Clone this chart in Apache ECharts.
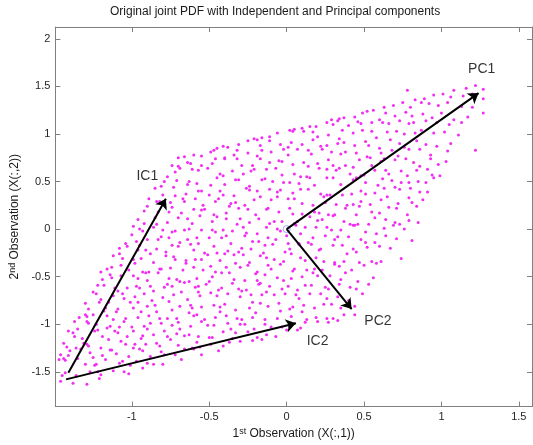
<!DOCTYPE html>
<html>
<head>
<meta charset="utf-8">
<script src="https://cdn.jsdelivr.net/npm/echarts@6/dist/echarts.min.js"></script>
<style>
html, body { margin: 0; padding: 0; background: #fff; }
#chart { width: 533px; height: 445px; }
</style>
</head>
<body>
<div id="chart"></div>
<script>
// axis limits and tick step
const xLimits = [-1.494, 1.585];
const yLimits = [-1.866, 2.125];
const tickStep = 0.5;

// the sampled joint PDF (x = 1st observation, y = 2nd observation), bottom to top
const samples = [
[-1.46,-1.60],[-1.38,-1.62],[-1.29,-1.63],[-1.21,-1.57],
[-1.45,-1.54],[-1.43,-1.51],[-1.36,-1.54],[-1.27,-1.50],[-1.22,-1.50],[-1.20,-1.53],[-1.12,-1.49],[-1.05,-1.50],[-1.02,-1.52],[-0.93,-1.46],
[-1.47,-1.37],[-1.44,-1.36],[-1.43,-1.38],[-1.35,-1.36],[-1.30,-1.42],[-1.24,-1.43],[-1.23,-1.42],[-1.17,-1.37],[-1.08,-1.41],[-1.06,-1.39],[-1.01,-1.43],[-0.97,-1.39],[-0.90,-1.41],[-0.86,-1.42],[-0.80,-1.42],[-0.68,-1.37],
[-1.46,-1.32],[-1.41,-1.33],[-1.40,-1.28],[-1.33,-1.26],[-1.27,-1.30],[-1.25,-1.35],[-1.19,-1.33],[-1.14,-1.27],[-1.13,-1.27],[-1.10,-1.31],[-1.02,-1.34],[-0.95,-1.26],[-0.93,-1.28],[-0.88,-1.34],[-0.81,-1.29],[-0.79,-1.32],[-0.72,-1.32],[-0.66,-1.26],[-0.60,-1.26],[-0.55,-1.32],[-0.44,-1.28],
[-1.44,-1.20],[-1.42,-1.24],[-1.36,-1.25],[-1.31,-1.20],[-1.29,-1.21],[-1.28,-1.23],[-1.20,-1.25],[-1.15,-1.16],[-1.07,-1.18],[-1.04,-1.21],[-0.99,-1.25],[-0.98,-1.21],[-0.91,-1.21],[-0.84,-1.20],[-0.82,-1.23],[-0.75,-1.16],[-0.70,-1.22],[-0.61,-1.25],[-0.58,-1.19],[-0.56,-1.24],[-0.49,-1.21],[-0.41,-1.23],[-0.37,-1.19],[-0.30,-1.18],[-0.22,-1.17],[-0.16,-1.16],
[-1.41,-1.07],[-1.38,-1.09],[-1.37,-1.13],[-1.32,-1.15],[-1.24,-1.07],[-1.22,-1.06],[-1.19,-1.13],[-1.11,-1.07],[-1.09,-1.09],[-1.03,-1.13],[-0.99,-1.07],[-0.94,-1.15],[-0.93,-1.12],[-0.86,-1.11],[-0.79,-1.07],[-0.77,-1.13],[-0.71,-1.10],[-0.66,-1.12],[-0.63,-1.11],[-0.57,-1.13],[-0.50,-1.14],[-0.48,-1.14],[-0.41,-1.08],[-0.35,-1.15],[-0.33,-1.09],[-0.25,-1.08],[-0.19,-1.14],[-0.13,-1.11],[-0.07,-1.13],[0.00,-1.06],[0.07,-1.06],
[-1.37,-0.97],[-1.35,-1.05],[-1.29,-0.97],[-1.28,-0.99],[-1.23,-1.00],[-1.16,-1.04],[-1.14,-1.02],[-1.08,-1.03],[-1.05,-0.97],[-1.00,-1.03],[-0.92,-1.02],[-0.90,-1.05],[-0.88,-0.99],[-0.81,-0.99],[-0.74,-1.01],[-0.70,-0.98],[-0.69,-1.05],[-0.62,-1.02],[-0.55,-0.97],[-0.51,-1.01],[-0.47,-1.01],[-0.38,-0.99],[-0.36,-1.05],[-0.30,-1.00],[-0.27,-1.00],[-0.21,-1.05],[-0.14,-1.00],[-0.10,-1.03],[-0.03,-1.03],[0.02,-1.02],[0.09,-1.04],[0.12,-0.98],[0.20,-0.97],[0.27,-0.98],[0.33,-0.96],
[-1.34,-0.93],[-1.30,-0.90],[-1.29,-0.92],[-1.25,-0.90],[-1.18,-0.86],[-1.16,-0.91],[-1.12,-0.95],[-1.10,-0.87],[-1.04,-0.94],[-0.96,-0.93],[-0.94,-0.87],[-0.89,-0.91],[-0.84,-0.87],[-0.82,-0.94],[-0.77,-0.94],[-0.71,-0.94],[-0.63,-0.88],[-0.60,-0.91],[-0.58,-0.90],[-0.53,-0.95],[-0.46,-0.93],[-0.43,-0.87],[-0.39,-0.91],[-0.32,-0.94],[-0.29,-0.95],[-0.22,-0.93],[-0.20,-0.88],[-0.14,-0.95],[-0.06,-0.94],[-0.04,-0.86],[0.03,-0.92],[0.10,-0.87],[0.13,-0.95],[0.19,-0.93],[0.26,-0.94],[0.30,-0.94],[0.37,-0.90],[0.44,-0.90],
[-1.30,-0.78],[-1.28,-0.84],[-1.21,-0.77],[-1.17,-0.83],[-1.15,-0.77],[-1.09,-0.84],[-1.01,-0.77],[-0.99,-0.83],[-0.96,-0.77],[-0.90,-0.81],[-0.85,-0.80],[-0.76,-0.76],[-0.74,-0.85],[-0.69,-0.81],[-0.62,-0.80],[-0.61,-0.83],[-0.55,-0.82],[-0.47,-0.80],[-0.43,-0.82],[-0.40,-0.79],[-0.33,-0.85],[-0.24,-0.83],[-0.22,-0.77],[-0.17,-0.78],[-0.12,-0.81],[-0.05,-0.78],[0.02,-0.84],[0.04,-0.82],[0.11,-0.80],[0.18,-0.83],[0.24,-0.79],[0.29,-0.79],[0.35,-0.83],[0.44,-0.81],
[-1.25,-0.66],[-1.23,-0.68],[-1.20,-0.74],[-1.12,-0.70],[-1.06,-0.68],[-1.05,-0.73],[-0.98,-0.71],[-0.92,-0.68],[-0.87,-0.75],[-0.86,-0.65],[-0.80,-0.72],[-0.73,-0.69],[-0.68,-0.66],[-0.64,-0.74],[-0.57,-0.66],[-0.56,-0.70],[-0.49,-0.67],[-0.45,-0.70],[-0.38,-0.68],[-0.30,-0.71],[-0.29,-0.65],[-0.23,-0.69],[-0.16,-0.69],[-0.13,-0.66],[-0.08,-0.69],[-0.01,-0.68],[0.06,-0.69],[0.08,-0.73],[0.15,-0.68],[0.22,-0.68],[0.26,-0.73],[0.33,-0.71],[0.40,-0.75],[0.49,-0.68],
[-1.22,-0.59],[-1.18,-0.59],[-1.11,-0.62],[-1.09,-0.65],[-1.03,-0.62],[-0.97,-0.60],[-0.95,-0.62],[-0.88,-0.60],[-0.79,-0.61],[-0.77,-0.58],[-0.74,-0.60],[-0.66,-0.56],[-0.59,-0.61],[-0.57,-0.60],[-0.52,-0.58],[-0.44,-0.64],[-0.42,-0.62],[-0.35,-0.57],[-0.31,-0.63],[-0.26,-0.64],[-0.18,-0.58],[-0.17,-0.57],[-0.11,-0.60],[-0.03,-0.63],[0.01,-0.60],[0.07,-0.64],[0.12,-0.59],[0.16,-0.59],[0.25,-0.61],[0.27,-0.63],[0.34,-0.58],[0.41,-0.61],[0.45,-0.63],[0.53,-0.58],
[-1.19,-0.53],[-1.14,-0.48],[-1.13,-0.51],[-1.07,-0.49],[-0.99,-0.49],[-0.96,-0.52],[-0.91,-0.46],[-0.90,-0.54],[-0.83,-0.46],[-0.76,-0.52],[-0.71,-0.53],[-0.69,-0.55],[-0.63,-0.55],[-0.58,-0.52],[-0.50,-0.55],[-0.48,-0.50],[-0.42,-0.46],[-0.37,-0.46],[-0.34,-0.53],[-0.27,-0.54],[-0.20,-0.47],[-0.19,-0.54],[-0.14,-0.48],[-0.06,-0.51],[-0.02,-0.54],[0.03,-0.52],[0.10,-0.50],[0.17,-0.46],[0.20,-0.49],[0.28,-0.49],[0.35,-0.53],[0.38,-0.46],[0.46,-0.55],[0.56,-0.51],
[-1.16,-0.42],[-1.13,-0.40],[-1.07,-0.38],[-1.02,-0.43],[-0.98,-0.36],[-0.93,-0.45],[-0.89,-0.45],[-0.82,-0.42],[-0.81,-0.42],[-0.75,-0.41],[-0.67,-0.43],[-0.65,-0.36],[-0.60,-0.40],[-0.54,-0.43],[-0.49,-0.39],[-0.46,-0.45],[-0.39,-0.40],[-0.33,-0.36],[-0.30,-0.40],[-0.25,-0.38],[-0.19,-0.45],[-0.12,-0.38],[-0.10,-0.42],[-0.04,-0.37],[0.04,-0.44],[0.05,-0.42],[0.13,-0.43],[0.18,-0.42],[0.23,-0.43],[0.31,-0.37],[0.34,-0.39],[0.42,-0.43],[0.50,-0.38],[0.58,-0.36],
[-1.12,-0.28],[-1.08,-0.26],[-1.06,-0.31],[-0.99,-0.32],[-0.94,-0.31],[-0.88,-0.26],[-0.86,-0.35],[-0.78,-0.28],[-0.73,-0.29],[-0.72,-0.32],[-0.65,-0.33],[-0.59,-0.32],[-0.55,-0.32],[-0.51,-0.27],[-0.43,-0.33],[-0.40,-0.26],[-0.34,-0.27],[-0.28,-0.27],[-0.24,-0.35],[-0.17,-0.28],[-0.13,-0.30],[-0.08,-0.32],[-0.02,-0.34],[0.03,-0.26],[0.09,-0.30],[0.12,-0.33],[0.19,-0.30],[0.24,-0.34],[0.31,-0.35],[0.37,-0.34],[0.39,-0.26],[0.47,-0.35],[0.55,-0.34],[0.61,-0.34],
[-1.08,-0.20],[-1.03,-0.18],[-0.96,-0.22],[-0.95,-0.17],[-0.91,-0.22],[-0.84,-0.21],[-0.78,-0.24],[-0.74,-0.17],[-0.70,-0.18],[-0.62,-0.16],[-0.60,-0.22],[-0.53,-0.25],[-0.47,-0.18],[-0.45,-0.25],[-0.38,-0.23],[-0.31,-0.24],[-0.29,-0.20],[-0.23,-0.21],[-0.15,-0.25],[-0.14,-0.17],[-0.09,-0.16],[-0.01,-0.24],[0.02,-0.21],[0.08,-0.16],[0.16,-0.16],[0.21,-0.22],[0.22,-0.21],[0.30,-0.17],[0.36,-0.17],[0.43,-0.21],[0.45,-0.24],[0.52,-0.19],[0.60,-0.18],[0.67,-0.20],
[-1.04,-0.15],[-1.00,-0.06],[-0.97,-0.13],[-0.90,-0.11],[-0.83,-0.11],[-0.81,-0.08],[-0.76,-0.09],[-0.69,-0.14],[-0.64,-0.11],[-0.58,-0.09],[-0.57,-0.15],[-0.50,-0.09],[-0.42,-0.09],[-0.39,-0.07],[-0.36,-0.15],[-0.27,-0.07],[-0.22,-0.13],[-0.18,-0.13],[-0.12,-0.09],[-0.07,-0.11],[0.00,-0.07],[0.01,-0.15],[0.08,-0.15],[0.14,-0.14],[0.17,-0.09],[0.25,-0.07],[0.31,-0.11],[0.33,-0.08],[0.40,-0.08],[0.48,-0.11],[0.51,-0.14],[0.57,-0.14],[0.64,-0.07],[0.71,-0.10],
[-0.99,0.03],[-0.95,0.00],[-0.93,-0.02],[-0.86,0.02],[-0.80,-0.01],[-0.74,-0.03],[-0.72,-0.02],[-0.66,-0.01],[-0.63,0.00],[-0.55,-0.01],[-0.48,-0.01],[-0.46,-0.03],[-0.41,-0.01],[-0.35,-0.02],[-0.28,0.02],[-0.26,-0.04],[-0.19,-0.05],[-0.13,0.02],[-0.06,0.00],[-0.04,-0.02],[0.06,0.04],[0.09,-0.05],[0.12,0.02],[0.19,0.02],[0.26,0.02],[0.29,-0.01],[0.35,-0.01],[0.43,0.04],[0.44,0.04],[0.51,-0.03],[0.58,-0.05],[0.63,0.01],[0.69,0.04],[0.76,0.00],
[-0.96,0.10],[-0.92,0.06],[-0.85,0.12],[-0.84,0.05],[-0.77,0.07],[-0.70,0.12],[-0.64,0.11],[-0.61,0.06],[-0.56,0.14],[-0.48,0.08],[-0.45,0.13],[-0.39,0.11],[-0.32,0.05],[-0.30,0.11],[-0.24,0.07],[-0.18,0.11],[-0.11,0.06],[-0.08,0.08],[-0.03,0.08],[0.05,0.06],[0.07,0.08],[0.15,0.13],[0.20,0.09],[0.23,0.10],[0.30,0.14],[0.37,0.08],[0.41,0.05],[0.46,0.05],[0.53,0.05],[0.57,0.12],[0.64,0.10],[0.70,0.07],[0.73,0.05],[0.79,0.09],
[-0.92,0.19],[-0.90,0.24],[-0.83,0.18],[-0.76,0.18],[-0.74,0.23],[-0.68,0.17],[-0.60,0.21],[-0.55,0.20],[-0.53,0.21],[-0.47,0.15],[-0.39,0.17],[-0.37,0.24],[-0.31,0.22],[-0.25,0.21],[-0.20,0.15],[-0.13,0.21],[-0.12,0.22],[-0.05,0.18],[0.02,0.22],[0.04,0.16],[0.10,0.16],[0.18,0.18],[0.21,0.17],[0.27,0.15],[0.31,0.15],[0.38,0.22],[0.45,0.15],[0.47,0.24],[0.55,0.18],[0.60,0.17],[0.66,0.23],[0.71,0.22],[0.78,0.15],[0.84,0.24],
[-0.89,0.32],[-0.84,0.29],[-0.82,0.29],[-0.75,0.28],[-0.67,0.32],[-0.66,0.29],[-0.59,0.32],[-0.54,0.25],[-0.46,0.29],[-0.44,0.32],[-0.36,0.27],[-0.33,0.28],[-0.27,0.25],[-0.21,0.31],[-0.17,0.34],[-0.10,0.31],[-0.06,0.34],[0.01,0.32],[0.05,0.32],[0.10,0.27],[0.17,0.25],[0.24,0.34],[0.25,0.28],[0.32,0.26],[0.39,0.25],[0.43,0.26],[0.48,0.29],[0.54,0.26],[0.61,0.31],[0.65,0.34],[0.72,0.27],[0.79,0.33],[0.81,0.28],[0.88,0.31],
[-0.85,0.43],[-0.80,0.36],[-0.73,0.44],[-0.72,0.35],[-0.65,0.37],[-0.57,0.40],[-0.55,0.40],[-0.50,0.36],[-0.43,0.40],[-0.41,0.36],[-0.34,0.35],[-0.26,0.43],[-0.24,0.41],[-0.19,0.40],[-0.11,0.42],[-0.06,0.39],[-0.04,0.41],[0.04,0.38],[0.09,0.42],[0.14,0.42],[0.22,0.37],[0.26,0.36],[0.28,0.36],[0.36,0.36],[0.42,0.37],[0.48,0.40],[0.51,0.37],[0.57,0.38],[0.63,0.43],[0.70,0.44],[0.73,0.42],[0.80,0.43],[0.86,0.39],[0.91,0.39],
[-0.81,0.45],[-0.79,0.50],[-0.71,0.51],[-0.64,0.47],[-0.63,0.50],[-0.58,0.48],[-0.49,0.46],[-0.45,0.54],[-0.40,0.47],[-0.33,0.52],[-0.31,0.52],[-0.24,0.45],[-0.16,0.52],[-0.14,0.53],[-0.09,0.50],[-0.02,0.49],[0.02,0.49],[0.08,0.48],[0.15,0.54],[0.18,0.46],[0.26,0.54],[0.30,0.54],[0.35,0.47],[0.43,0.52],[0.45,0.54],[0.51,0.49],[0.59,0.46],[0.62,0.53],[0.68,0.51],[0.74,0.49],[0.79,0.49],[0.85,0.50],[0.90,0.49],[0.95,0.54],
[-0.77,0.55],[-0.72,0.60],[-0.69,0.64],[-0.61,0.63],[-0.57,0.62],[-0.51,0.64],[-0.43,0.58],[-0.41,0.56],[-0.35,0.61],[-0.28,0.58],[-0.23,0.61],[-0.21,0.63],[-0.13,0.63],[-0.07,0.64],[-0.03,0.57],[0.05,0.58],[0.09,0.55],[0.13,0.55],[0.21,0.64],[0.26,0.63],[0.32,0.62],[0.34,0.64],[0.41,0.58],[0.48,0.56],[0.50,0.57],[0.57,0.62],[0.64,0.62],[0.66,0.58],[0.74,0.61],[0.78,0.56],[0.84,0.62],[0.91,0.63],[0.94,0.57],[0.99,0.56],
[-0.74,0.67],[-0.70,0.66],[-0.64,0.70],[-0.62,0.69],[-0.55,0.67],[-0.48,0.69],[-0.46,0.74],[-0.40,0.74],[-0.32,0.74],[-0.29,0.67],[-0.22,0.67],[-0.17,0.74],[-0.11,0.70],[-0.05,0.72],[-0.03,0.71],[0.04,0.68],[0.11,0.70],[0.14,0.66],[0.20,0.69],[0.27,0.73],[0.30,0.67],[0.38,0.67],[0.43,0.65],[0.47,0.73],[0.55,0.67],[0.61,0.71],[0.63,0.74],[0.70,0.73],[0.77,0.74],[0.82,0.70],[0.86,0.66],[0.93,0.74],[0.98,0.68],[1.03,0.71],
[-0.70,0.75],[-0.66,0.76],[-0.60,0.78],[-0.55,0.77],[-0.49,0.81],[-0.47,0.83],[-0.40,0.75],[-0.34,0.78],[-0.32,0.83],[-0.25,0.80],[-0.19,0.77],[-0.16,0.83],[-0.10,0.81],[-0.02,0.84],[0.01,0.78],[0.07,0.84],[0.14,0.83],[0.16,0.79],[0.23,0.84],[0.29,0.81],[0.35,0.79],[0.38,0.81],[0.45,0.80],[0.52,0.76],[0.54,0.75],[0.61,0.80],[0.68,0.83],[0.72,0.77],[0.79,0.84],[0.86,0.84],[0.93,0.78],[1.04,0.82],
[-0.45,0.85],[-0.41,0.87],[-0.38,0.86],[-0.31,0.89],[-0.25,0.93],[-0.19,0.94],[-0.17,0.88],[-0.11,0.93],[-0.04,0.89],[0.01,0.86],[0.03,0.91],[0.10,0.89],[0.17,0.94],[0.22,0.87],[0.26,0.88],[0.33,0.90],[0.37,0.91],[0.44,0.88],[0.51,0.92],[0.53,0.88],[0.60,0.85],[0.67,0.94],[0.73,0.90],[0.76,0.86],[0.84,0.93],[0.90,0.89],[0.97,0.87],[1.06,0.90],
[-0.21,0.95],[-0.16,0.96],[-0.11,0.97],[-0.06,1.01],[0.02,1.04],[0.04,1.03],[0.11,1.03],[0.17,1.02],[0.20,0.97],[0.27,0.99],[0.34,0.95],[0.36,1.04],[0.43,1.01],[0.49,1.04],[0.55,1.03],[0.58,0.96],[0.65,1.02],[0.71,1.03],[0.76,1.00],[0.83,1.01],[0.87,1.04],[0.95,1.01],[1.02,1.02],[1.11,0.99],
[0.05,1.05],[0.10,1.06],[0.15,1.08],[0.19,1.08],[0.26,1.12],[0.30,1.10],[0.33,1.14],[0.40,1.09],[0.46,1.13],[0.48,1.11],[0.55,1.12],[0.62,1.12],[0.66,1.11],[0.73,1.14],[0.79,1.11],[0.82,1.12],[0.90,1.14],[0.97,1.12],[1.05,1.10],[1.13,1.12],
[0.29,1.15],[0.34,1.16],[0.37,1.17],[0.44,1.18],[0.49,1.22],[0.52,1.24],[0.60,1.15],[0.64,1.22],[0.70,1.19],[0.77,1.23],[0.81,1.19],[0.88,1.21],[0.94,1.17],[1.00,1.22],[1.08,1.15],[1.17,1.18],
[0.56,1.25],[0.63,1.28],[0.69,1.30],[0.75,1.33],[0.80,1.28],[0.87,1.33],[0.92,1.32],[0.98,1.30],[1.04,1.33],[1.13,1.29],[1.20,1.28],
[0.83,1.36],[0.89,1.37],[0.95,1.41],[1.01,1.42],[1.06,1.39],[1.14,1.40],[1.20,1.42],[1.27,1.37],
[1.08,1.46],[1.16,1.48],[1.22,1.51],[1.27,1.47],
[0.78,1.46],[1.27,1.22],[1.22,0.83],[0.85,0.07],[0.81,-0.12],[0.74,-0.31],[-1.20,-0.45]
];

// independent / principal component arrows
const arrowNames = ['IC1', 'IC2', 'PC1', 'PC2'];
const arrowFrom = [[-1.41, -1.51], [-1.425, -1.58], [0, 0], [0, 0]];
const arrowTo = [[-0.78, 0.32], [0.06, -0.99], [1.24, 1.43], [0.42, -0.84]];
const labelAt = [[-0.90, 0.56], [0.20, -1.18], [1.26, 1.68], [0.59, -0.97]];
const origin = [0, 0];

const fontFamily = '"Liberation Sans", Arial, sans-serif';
const axisGrey = '#808080';

function makeAxis(pos, limits, showLabels, extra) {
    return Object.assign({
        type: 'value',
        position: pos,
        min: limits[0],
        max: limits[1],
        minInterval: tickStep,
        maxInterval: tickStep,
        axisLine: { onZero: false, lineStyle: { color: axisGrey, width: 1 } },
        axisTick: { inside: true, length: 5, lineStyle: { color: axisGrey } },
        axisLabel: {
            show: showLabels, color: '#262626', fontSize: 11, fontFamily: fontFamily,
            margin: 5, showMinLabel: false, showMaxLabel: false
        },
        splitLine: { show: false }
    }, extra || {});
}

// superscript for the "st" / "nd" in the axis names
const nameStyle = {
    fontSize: 12, color: '#1a1a1a', fontFamily: fontFamily,
    rich: { sup: { fontSize: 9, verticalAlign: 'top', padding: [0, 0, 4, 0], fontFamily: fontFamily, color: '#1a1a1a' } }
};

var myChart = echarts.init(document.getElementById('chart'), null, { renderer: 'canvas' });

const option = {
    animation: false,
    backgroundColor: '#fff',
    title: {
        text: 'Original joint PDF with Independent and Principal components',
        left: 110,
        top: 6,
        padding: 0,
        textStyle: { fontSize: 12, fontWeight: 'normal', color: '#1a1a1a', fontFamily: fontFamily }
    },
    grid: { left: 50, top: 27, width: 482, height: 382, containLabel: false },
    xAxis: [
        makeAxis('bottom', xLimits, true, {
            name: '1{sup|st} Observation (X(:,1))',
            nameLocation: 'middle',
            nameGap: 20,
            nameTextStyle: nameStyle
        }),
        makeAxis('top', xLimits, false)
    ],
    yAxis: [
        makeAxis('left', yLimits, true, {
            name: '2{sup|nd} Observation (X(:,2))',
            nameLocation: 'middle',
            nameGap: 27,
            nameTextStyle: nameStyle
        }),
        makeAxis('right', yLimits, false)
    ],
    series: [
        {
            type: 'scatter',
            xAxisIndex: 0,
            yAxisIndex: 0,
            data: samples,
            symbol: 'circle',
            symbolSize: 3,
            itemStyle: { color: '#f22ef2', opacity: 1 },
            silent: true,
            z: 2
        },
        {
            type: 'scatter',
            xAxisIndex: 0,
            yAxisIndex: 0,
            data: [origin],
            symbol: 'circle',
            symbolSize: 7,
            itemStyle: { color: 'rgba(0,0,0,0)', borderColor: '#8c8cff', borderWidth: 1 },
            silent: true,
            z: 3
        },
        {
            type: 'lines',
            coordinateSystem: 'cartesian2d',
            xAxisIndex: 0,
            yAxisIndex: 0,
            symbol: ['none', 'arrow'],
            symbolSize: 10,
            lineStyle: { color: '#000', width: 2, opacity: 1, curveness: 0 },
            data: arrowNames.map((n, i) => ({ name: n, coords: [arrowFrom[i], arrowTo[i]] })),
            silent: true,
            z: 4
        },
        {
            type: 'scatter',
            xAxisIndex: 0,
            yAxisIndex: 0,
            symbolSize: 1,
            itemStyle: { color: 'rgba(0,0,0,0)' },
            label: {
                show: true, position: 'inside', formatter: '{b}',
                fontSize: 14, color: '#000', fontFamily: fontFamily
            },
            data: arrowNames.map((n, i) => ({ name: n, value: labelAt[i] })),
            silent: true,
            z: 5
        }
    ]
};

myChart.setOption(option);
</script>
</body>
</html>
